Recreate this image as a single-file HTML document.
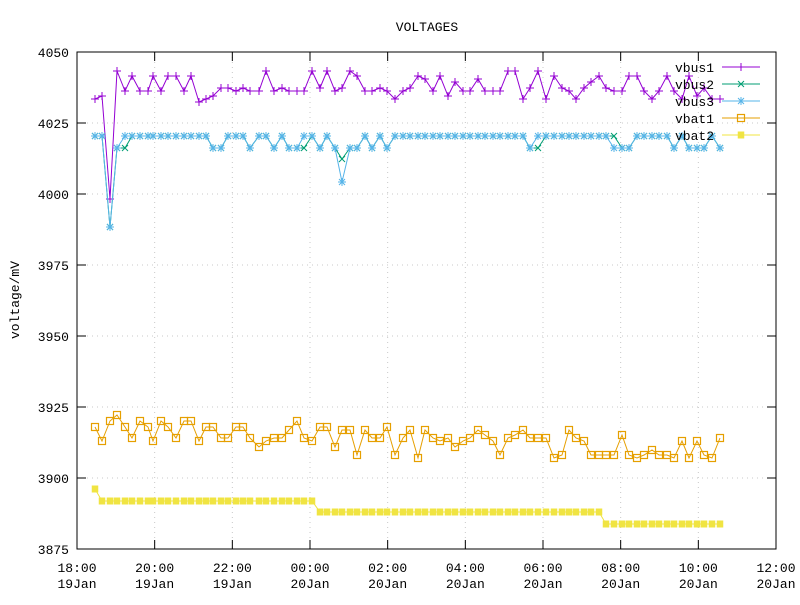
<!DOCTYPE html>
<html><head><meta charset="utf-8"><style>
html,body{margin:0;padding:0;background:#fff}
svg text{font-family:"Liberation Mono",monospace;font-size:13px;fill:#000}
</style></head><body>
<svg id="s" width="800" height="600" xmlns="http://www.w3.org/2000/svg"></svg>
<script>
const s=document.getElementById('s');let h='';
const L=77,R=776,T=52,B=549;
const yv=[4050,4025,4000,3975,3950,3925,3900,3875];
yv.forEach((v,i)=>{const y=T+i*(B-T)/7;
 if(i>0&&i<7)h+=`<line x1="${L}" y1="${y}" x2="${R}" y2="${y}" stroke="#c8c8c8" stroke-dasharray="1,4"/>`;
 h+=`<line x1="${L}" y1="${y}" x2="${L+9}" y2="${y}" stroke="#000"/><line x1="${R}" y1="${y}" x2="${R-9}" y2="${y}" stroke="#000"/>`;
 h+=`<text x="69" y="${y+5}" text-anchor="end">${v}</text>`;});
const xl=[["18:00","19Jan"],["20:00","19Jan"],["22:00","19Jan"],["00:00","20Jan"],["02:00","20Jan"],["04:00","20Jan"],["06:00","20Jan"],["08:00","20Jan"],["10:00","20Jan"],["12:00","20Jan"]];
xl.forEach((t,i)=>{const x=L+i*(R-L)/9;
 if(i>0&&i<9)h+=`<line x1="${x}" y1="${T}" x2="${x}" y2="${B}" stroke="#c8c8c8" stroke-dasharray="1,4"/>`;
 h+=`<line x1="${x}" y1="${B}" x2="${x}" y2="${B-9}" stroke="#000"/><line x1="${x}" y1="${T}" x2="${x}" y2="${T+9}" stroke="#000"/>`;
 h+=`<text x="${x}" y="572" text-anchor="middle">${t[0]}</text><text x="${x}" y="588" text-anchor="middle">${t[1]}</text>`;});
h+=`<rect x="${L}" y="${T}" width="${R-L}" height="${B-T}" fill="none" stroke="#000"/>`;
h+=`<text x="427" y="31" text-anchor="middle">VOLTAGES</text>`;
h+=`<text transform="translate(19,300) rotate(-90)" text-anchor="middle">voltage/mV</text>`;
const X=[95,102,110,117,125,132,140,148,153,161,168,176,184,191,199,206,213,221,228,236,243,250,259,266,274,282,289,297,304,312,320,327,335,342,350,357,365,372,380,387,395,403,410,418,425,433,440,448,455,463,470,478,485,493,500,508,515,523,530,538,546,554,562,569,576,584,591,599,606,614,622,629,637,644,652,659,667,674,682,689,697,704,712,720];
const vb1=[99,96,199,71,91,76,91,91,76,91,76,76,91,76,102,99,96,88,88,91,88,91,91,71,91,88,91,91,91,71,88,71,91,88,71,76,91,91,88,91,99,91,88,76,79,91,76,96,82,91,91,79,91,91,91,71,71,99,88,71,99,76,88,91,99,88,82,76,88,91,91,76,76,91,99,91,76,91,99,76,96,88,99,99];
const vb3=X.map(()=>136);vb3[2]=227;
const dip3=[117,213,221,250,274,289,297,320,335,350,357,372,387,530,622,629,674,689,697,704,720,614];
dip3.forEach(x=>{const i=X.indexOf(x);if(i>=0)vb3[i]=148});
vb3[X.indexOf(342)]=182;
const vb2=vb3.slice();
vb2[X.indexOf(125)]=148;vb2[X.indexOf(304)]=148;vb2[X.indexOf(342)]=159;vb2[X.indexOf(538)]=148;vb2[X.indexOf(614)]=136;
const va1=[427,441,421,415,427,438,421,427,441,421,427,438,421,421,441,427,427,438,438,427,427,438,447,441,438,438,430,421,438,441,427,427,447,430,430,455,430,438,438,427,455,438,430,458,430,438,441,438,447,441,438,430,435,441,455,438,435,430,438,438,438,458,455,430,438,441,455,455,455,455,435,455,458,455,450,455,455,458,441,458,441,455,458,438];
const va2=X.map(x=>x<100?489:x<=312?501:x<=599?512:524);
function line(ys,c){return `<polyline fill="none" stroke="${c}" stroke-width="1" points="${X.map((x,i)=>x+','+ys[i]).join(' ')}"/>`;}
function mk(t,x,y,c){const r=4;
 if(t=='+')return `<path d="M${x-r} ${y}H${x+r}M${x} ${y-r}V${y+r}" stroke="${c}"/>`;
 if(t=='x')return `<path d="M${x-3} ${y-3}L${x+3} ${y+3}M${x-3} ${y+3}L${x+3} ${y-3}" stroke="${c}"/>`;
 if(t=='*')return `<path d="M${x-r} ${y}H${x+r}M${x} ${y-r}V${y+r}M${x-3} ${y-3}L${x+3} ${y+3}M${x-3} ${y+3}L${x+3} ${y-3}" stroke="${c}"/>`;
 if(t=='s')return `<rect x="${x-3.5}" y="${y-3.5}" width="7" height="7" fill="none" stroke="${c}" stroke-width="1.2"/>`;
 return `<rect x="${x-3.25}" y="${y-3.5}" width="6.5" height="7" fill="${c}"/>`;}
const ser=[["vbus1",vb1,"#9400d3","+"],["vbus2",vb2,"#009e73","x"],["vbus3",vb3,"#56b4e9","*"],["vbat1",va1,"#e69f00","s"],["vbat2",va2,"#f0e442","f"]];
ser.forEach(([n,ys,c,t])=>{h+=line(ys,c);X.forEach((x,i)=>h+=mk(t,x,ys[i],c));});
ser.forEach(([n,ys,c,t],i)=>{const y=67+i*17;
 h+=`<text x="714" y="${y+5}" text-anchor="end">${n}</text><line x1="722" y1="${y}" x2="760" y2="${y}" stroke="${c}"/>`+mk(t,741,y,c);});
s.innerHTML=h;
</script>
</body></html>
